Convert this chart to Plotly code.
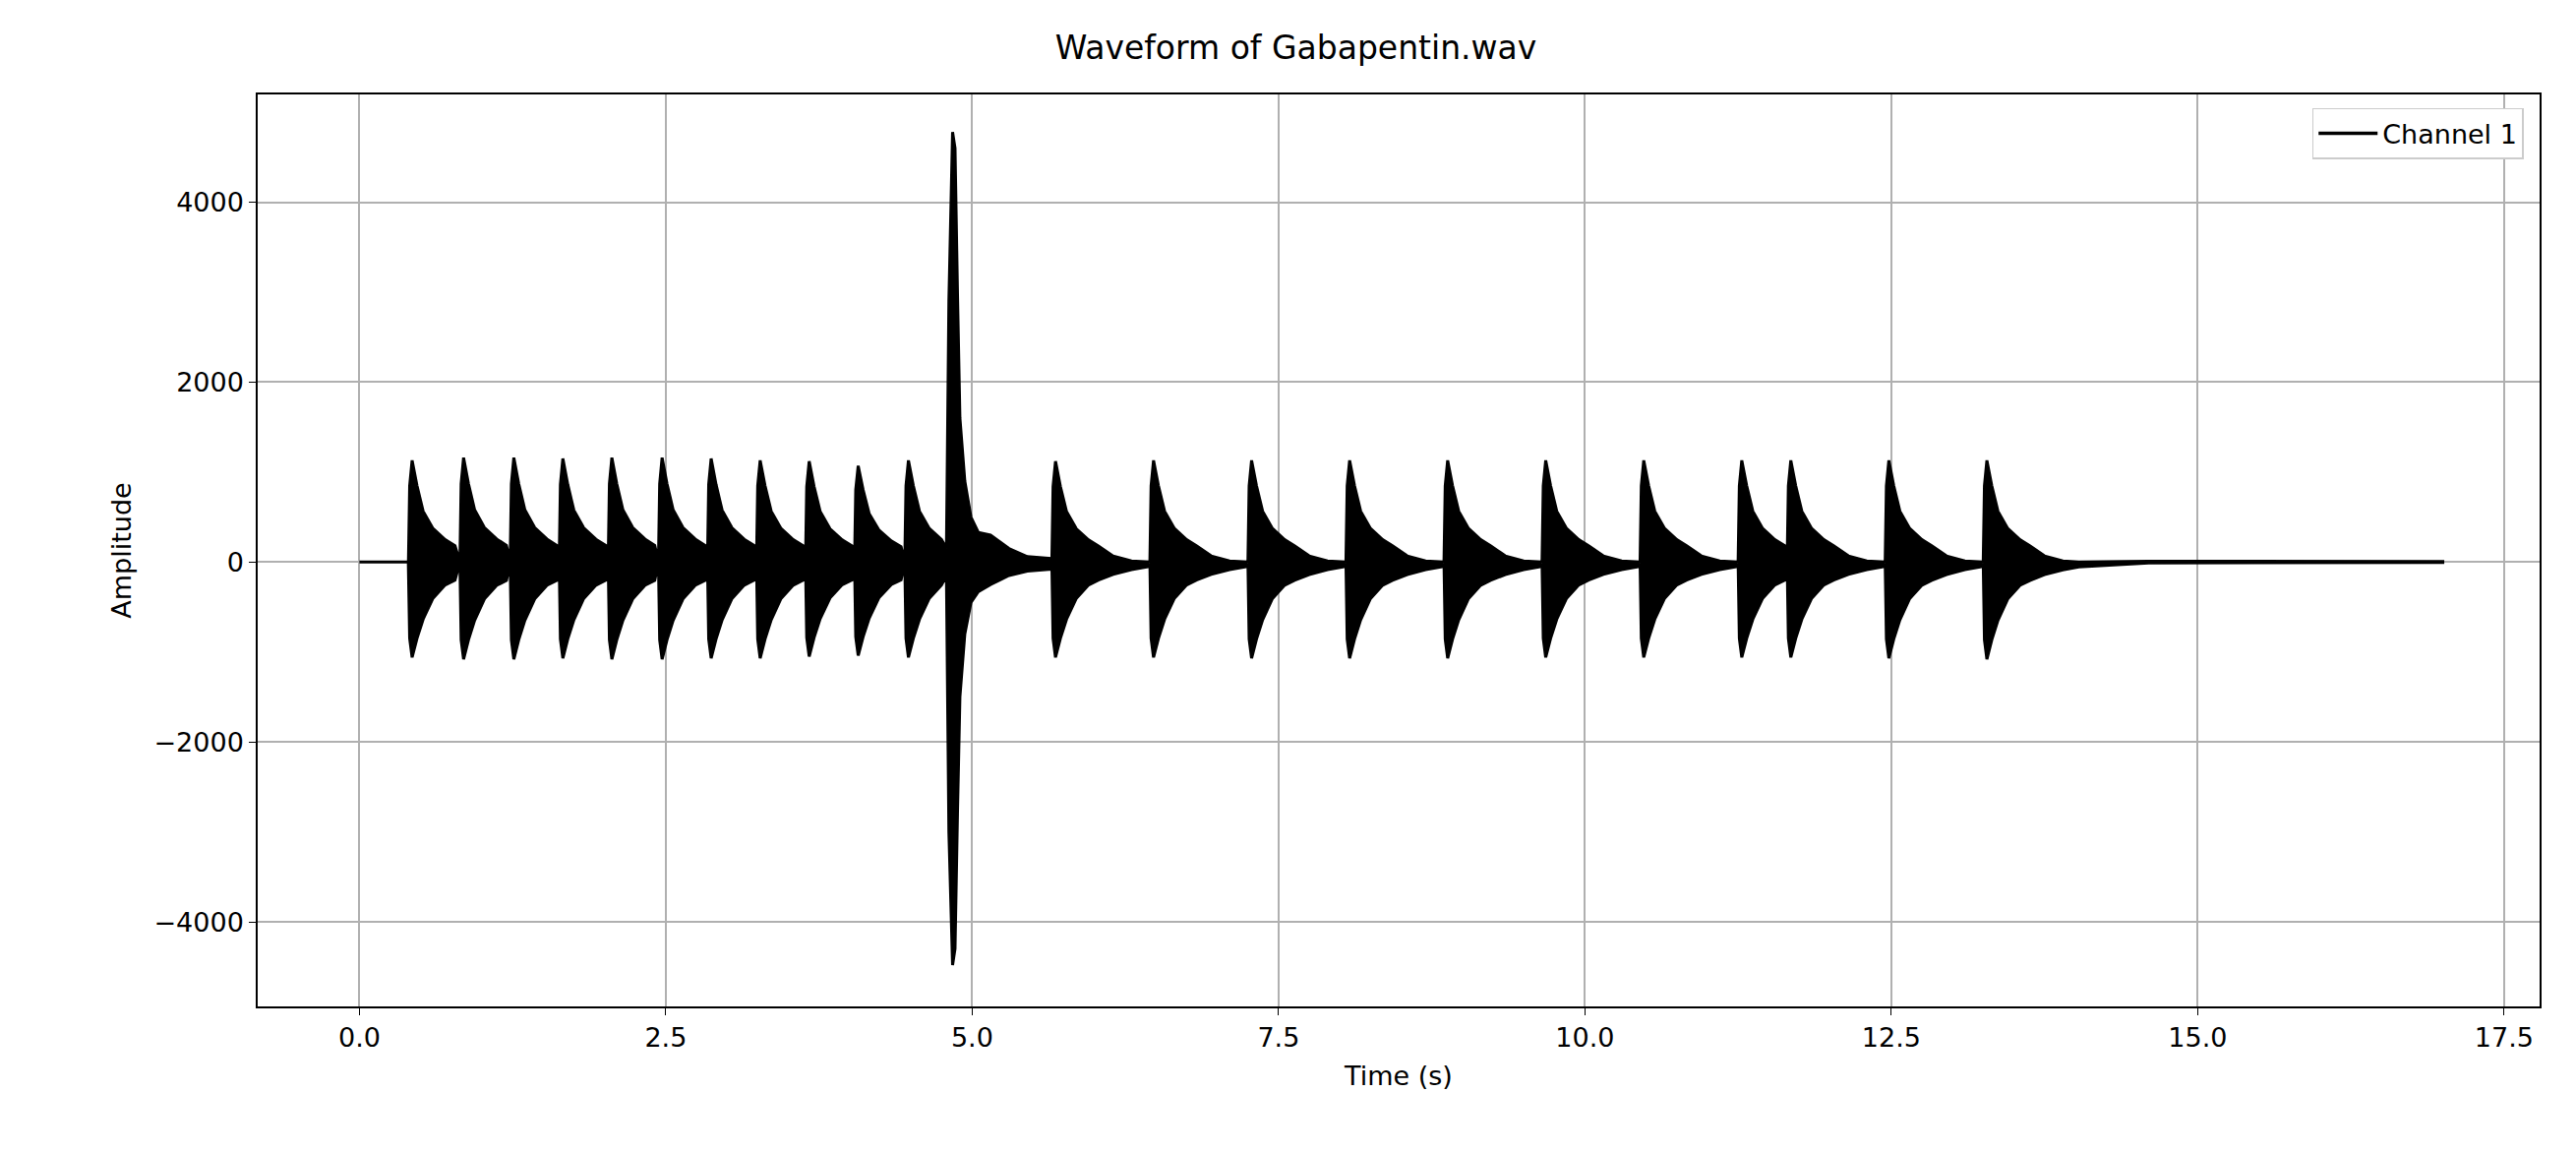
import plotly.graph_objects as go

# burst onset times (s) and peak amplitudes
onsets = [0.40, 0.82, 1.23, 1.63, 2.03, 2.44, 2.84, 3.24, 3.64, 4.04, 4.45,
          5.65, 6.45, 7.25, 8.05, 8.85, 9.65, 10.45, 11.25, 11.65, 12.45, 13.25]
peaks_up = [1130, 1160, 1160, 1150, 1160, 1160, 1150, 1130, 1120, 1070, 1130,
            1120, 1130, 1130, 1130, 1130, 1130, 1130, 1130, 1130, 1130, 1130]
peaks_dn = [-1060, -1080, -1080, -1070, -1080, -1080, -1070, -1070, -1050, -1040, -1060,
            -1060, -1060, -1070, -1070, -1070, -1060, -1060, -1060, -1060, -1070, -1080]
# envelope profile of one burst (offset s, relative upper, relative lower)
prof_t  = [0.0, 0.01, 0.03, 0.07, 0.12, 0.2, 0.3, 0.38, 0.5, 0.65, 0.78]
prof_up = [0.0, 0.75, 1.0, 0.75, 0.5, 0.33, 0.22, 0.16, 0.06, 0.01, 0.0]
prof_dn = [0.0, 0.8, 1.0, 0.8, 0.6, 0.38, 0.24, 0.19, 0.13, 0.08, 0.05]
# big event near 4.85 s
spike_t  = [4.79, 4.81, 4.84, 4.86, 4.88, 4.90, 4.94, 4.99, 5.05, 5.15, 5.3, 5.45, 5.64]
spike_up = [150, 2900, 4780, 4600, 3000, 1600, 900, 500, 330, 300, 150, 60, 40]
spike_dn = [-150, -3000, -4480, -4300, -2800, -1500, -800, -450, -330, -250, -150, -100, -80]

T, U, L = [0.0, 0.399], [0, 0], [0, 0]
for i, t0 in enumerate(onsets):
    nxt = onsets[i + 1] if i + 1 < len(onsets) else 14.6
    if t0 == 4.45:
        nxt = 4.79
    for dt, pu, pd in zip(prof_t, prof_up, prof_dn):
        if t0 + dt < nxt:
            T.append(t0 + dt); U.append(pu * peaks_up[i]); L.append(pd * peaks_dn[i])
    if t0 == 4.45:
        T += spike_t; U += spike_up; L += spike_dn
T += [14.6, 17.0]; U += [10, 5]; L += [-10, -5]

fig = go.Figure()
fig.add_trace(go.Scatter(x=T + T[::-1], y=U + L[::-1], fill="toself", fillcolor="black",
                         line=dict(color="black", width=3), mode="lines", showlegend=False,
                         hoverinfo="skip"))
fig.add_trace(go.Scatter(x=[None], y=[None], mode="lines", line=dict(color="black", width=3.5),
                         name="Channel 1"))
ax = dict(showgrid=True, gridcolor="#b0b0b0", gridwidth=1.5, zeroline=False, showline=True,
          linecolor="black", linewidth=1.5, mirror=True, ticks="outside", ticklen=7,
          tickcolor="black", tickfont=dict(size=27, color="black"))
fig.update_layout(
    width=2619, height=1172, plot_bgcolor="white", paper_bgcolor="white",
    margin=dict(l=254, r=45, t=88, b=157),
    font=dict(family="DejaVu Sans", color="black"),
    title=dict(text="Waveform of Gabapentin.wav", x=0.5, xanchor="center", y=0.975,
               font=dict(size=33)),
    xaxis=dict(**ax, range=[-0.83, 17.79], tickvals=[0, 2.5, 5, 7.5, 10, 12.5, 15, 17.5],
               ticktext=["0.0", "2.5", "5.0", "7.5", "10.0", "12.5", "15.0", "17.5"],
               title=dict(text="Time (s)", font=dict(size=27))),
    yaxis=dict(**ax, range=[-4940, 5198], tickvals=[-4000, -2000, 0, 2000, 4000],
               ticktext=["−4000", "−2000", "0", "2000", "4000"],
               title=dict(text="Amplitude", font=dict(size=27))),
    legend=dict(x=0.993, y=0.985, xanchor="right", yanchor="top", bordercolor="#cccccc",
                borderwidth=1.5, font=dict(size=27), bgcolor="white", itemwidth=60),
)
fig.write_html("out.html")
